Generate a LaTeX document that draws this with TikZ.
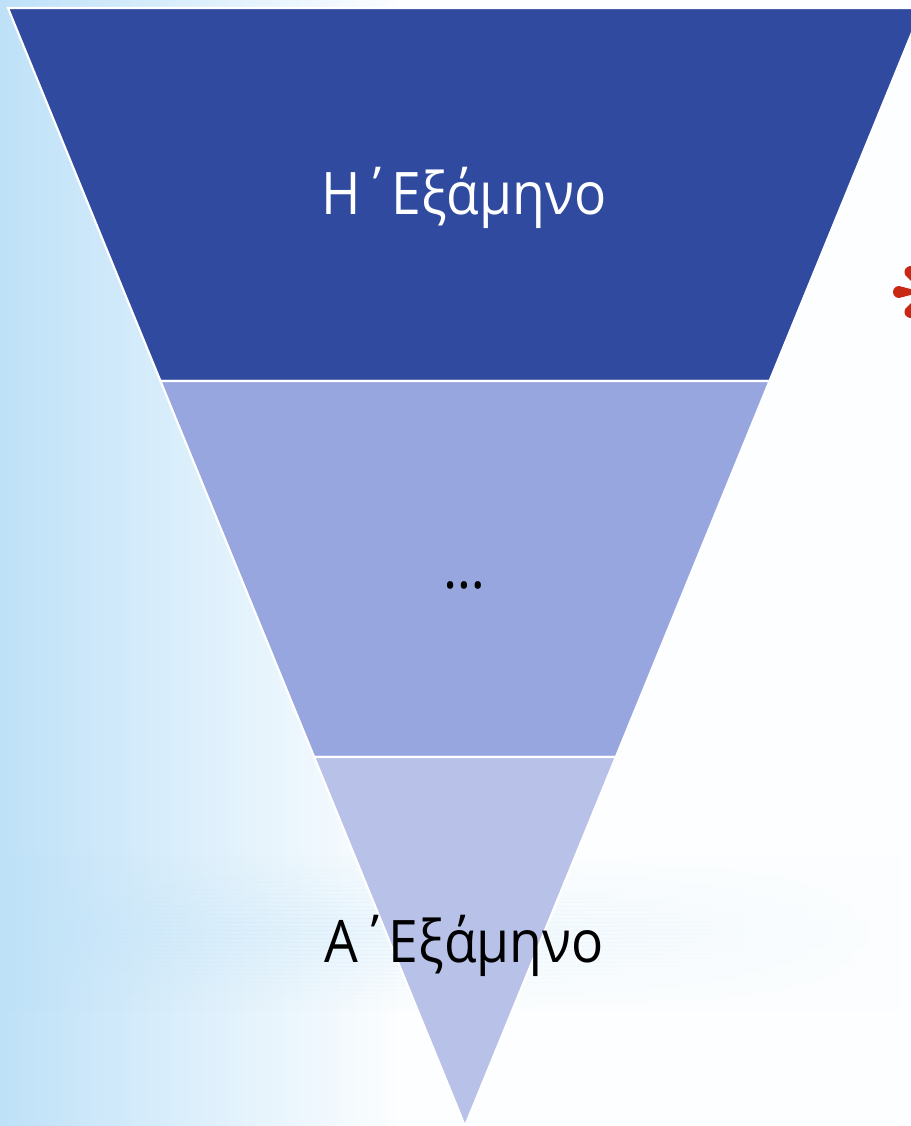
\documentclass[tikz,border=0pt]{standalone}
\usepackage{fontspec}
\setmainfont[FakeStretch=0.91]{Open Sans}
\usetikzlibrary{positioning,calc}
\definecolor{semtop}{RGB}{47,74,158}
\definecolor{semmid}{RGB}{151,166,223}
\definecolor{semlow}{RGB}{184,193,232}
\definecolor{bgblue}{RGB}{190,225,248}
\definecolor{bgred}{RGB}{200,40,20}

\begin{document}
\begin{tikzpicture}[x=0.75pt,y=-0.75pt,
  every node/.style={font=\fontsize{44}{50}\selectfont},
  band/.style={draw=white,line width=1.6pt,line join=miter},
  lbl/.style={anchor=base}]
\useasboundingbox (0,0) rectangle (910,1126);
% background
\fill[white!96!bgblue] (0,0) rectangle (910,1126);
\shade[left color=bgblue,right color=white!96!bgblue] (0,0) rectangle (400,1126);
\foreach \i in {0,...,39}{
  \pgfmathsetmacro\op{0.4*(1-abs(\i-20)/20)}
  \shade[left color=bgblue,right color=white!96!bgblue,opacity=\op]
    (0,850+4*\i) rectangle (910,854+4*\i);
}
\foreach \a in {0,60,...,300}
  \fill[bgred,rotate around={\a:(922,292)}] (922,292) -- (899,286)
    arc[start angle=270,end angle=90,radius=6] -- cycle;
% funnel
\coordinate (tl) at (8,8);
\coordinate (tr) at (922,8);
\coordinate (ap) at (465,1126);
\coordinate (l1) at ($(tl)!0.3336!(ap)$);
\coordinate (r1) at ($(tr)!0.3336!(ap)$);
\coordinate (l2) at ($(tl)!0.67!(ap)$);
\coordinate (r2) at ($(tr)!0.67!(ap)$);
\filldraw[band,fill=semtop] (tl) -- (tr) -- (r1) -- (l1) -- cycle;
\filldraw[band,fill=semmid] (l1) -- (r1) -- (r2) -- (l2) -- cycle;
\filldraw[band,fill=semlow] (l2) -- (r2) -- (ap) -- cycle;
\node[lbl,white] (sem8) at (464,215) {Η΄Εξάμηνο};
\node[lbl] (semdots) at (464,588) {…};
\node[lbl] (sem1) at (464,962) {Α΄Εξάμηνο};
\end{tikzpicture}
\end{document}
